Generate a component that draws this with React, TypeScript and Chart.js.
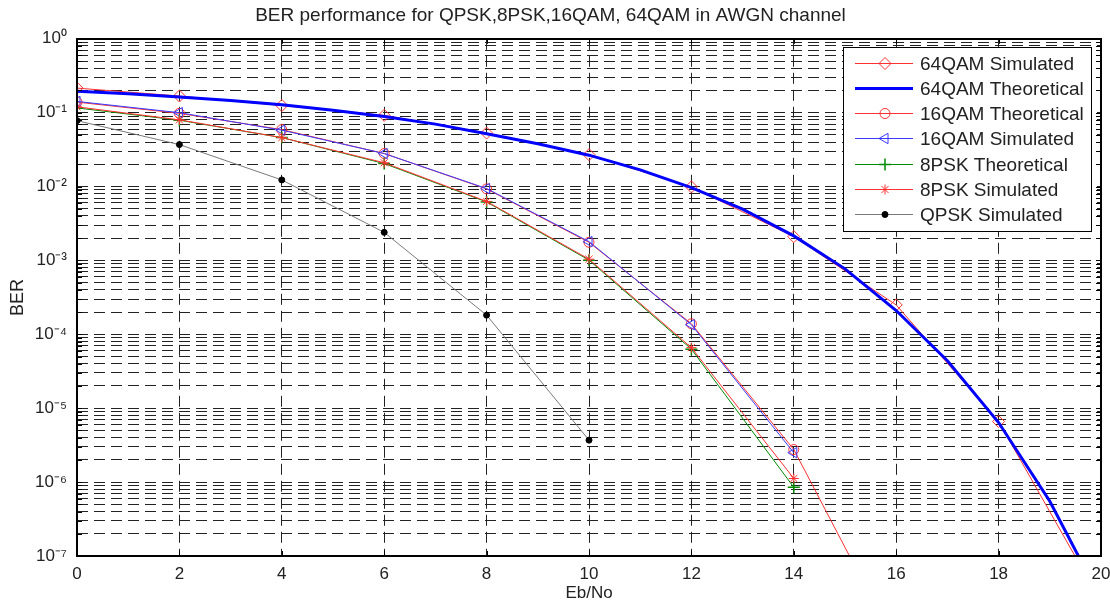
import { useEffect, useRef } from 'react';
import { Chart, registerables } from 'chart.js';
import { drawPoint } from 'chart.js/helpers';

Chart.register(...registerables);

// ---------- data ----------
const TITLE = 'BER performance for QPSK,8PSK,16QAM, 64QAM in AWGN channel';
const X_LABEL = 'Eb/No';
const Y_LABEL = 'BER';

const EBNO_EVEN = [0, 2, 4, 6, 8, 10, 12, 14, 16, 18, 20];
const EBNO_FINE = [0, 1, 2, 3, 4, 5, 6, 7, 8, 9, 10, 11, 12, 13, 14, 15, 16, 17, 18, 19, 20];

const QAM64_SIM = [0.215, 0.168, 0.125, 0.092, 0.053, 0.027, 0.0099, 0.0021, 0.00025, 6.6e-6, 2.4e-8];
const QAM64_THEO = [0.195, 0.18, 0.163, 0.146, 0.128, 0.108, 0.089, 0.07, 0.052, 0.038, 0.0266, 0.0168,
  0.0097, 0.00495, 0.00215, 0.00077, 0.00021, 4.4e-5, 6.4e-6, 5.5e-7, 2.6e-8];
const QAM16_THEO = [0.139, 0.098, 0.059, 0.028, 0.0093, 0.00176, 0.000139, 2.76e-6, 6.2e-9];
const QAM16_SIM = [0.142, 0.1, 0.058, 0.028, 0.0094, 0.0018, 0.000135, 2.5e-6];
const PSK8_THEO = [0.116, 0.079, 0.046, 0.0205, 0.0062, 0.00101, 6.3e-5, 8.5e-7];
const PSK8_SIM = [0.12, 0.08, 0.046, 0.021, 0.0063, 0.00104, 6.6e-5, 1.12e-6];
const QPSK_SIM = [0.078, 0.037, 0.0123, 0.0024, 0.000182, 3.7e-6];

const X_TICKS = [0, 2, 4, 6, 8, 10, 12, 14, 16, 18, 20];
const Y_DECADES = [-7, -6, -5, -4, -3, -2, -1, 0];
const Y_TICK_LABELS = ['10⁻⁷', '10⁻⁶', '10⁻⁵', '10⁻⁴', '10⁻³', '10⁻²', '10⁻¹', '10⁰'];
const Y_MINOR_MULTIPLES = [1, 2, 3, 4, 5, 6, 7, 8, 9];

const SERIES_LABELS = [
  '64QAM Simulated',
  '64QAM Theoretical',
  '16QAM Theoretical',
  '16QAM Simulated',
  '8PSK Theoretical',
  '8PSK Simulated',
  'QPSK Simulated',
];

const FONT = '"Liberation Sans", Arial, Helvetica, sans-serif';
const TEXT = '#222';

function pts(xs: number[], ys: number[]) {
  return ys.map((y, i) => ({ x: xs[i], y }));
}

function yTickValues() {
  const out: number[] = [];
  for (let d = 0; d < Y_DECADES.length - 1; d++) {
    for (const m of Y_MINOR_MULTIPLES) out.push(m * Math.pow(10, Y_DECADES[d]));
  }
  out.push(Math.pow(10, Y_DECADES[Y_DECADES.length - 1]));
  return out;
}

const matlabPlugin = {
  id: 'matlabFrame',
  afterDraw(chart: any) {
    const { ctx, chartArea } = chart;
    const { left, right, top, bottom } = chartArea;
    const xs = chart.scales.x;
    const ys = chart.scales.y;
    ctx.save();
    // inward ticks
    ctx.strokeStyle = '#000';
    ctx.lineWidth = 1;
    ctx.beginPath();
    for (const t of ys.ticks) {
      const py = Math.round(ys.getPixelForValue(t.value)) + 0.5;
      ctx.moveTo(left, py); ctx.lineTo(left + 5, py);
      ctx.moveTo(right, py); ctx.lineTo(right - 5, py);
    }
    for (const t of xs.ticks) {
      const px = Math.round(xs.getPixelForValue(t.value)) + 0.5;
      ctx.moveTo(px, bottom); ctx.lineTo(px, bottom - 5);
      ctx.moveTo(px, top); ctx.lineTo(px, top + 5);
    }
    ctx.stroke();
    // box
    ctx.lineWidth = 2;
    ctx.strokeRect(Math.round(left), Math.round(top), Math.round(right - left), Math.round(bottom - top));

    // legend
    const bx = 843, by = 47, bw = 248, bh = 184;
    ctx.fillStyle = '#fff';
    ctx.fillRect(bx, by, bw, bh);
    ctx.lineWidth = 1;
    ctx.strokeStyle = '#000';
    ctx.strokeRect(bx + 0.5, by + 0.5, bw, bh);
    const rowY0 = 63, rowStep = 25.15;
    chart.data.datasets.forEach((ds: any, i: number) => {
      const y = Math.round(rowY0 + i * rowStep) + 0.5;
      ctx.strokeStyle = ds.borderColor;
      ctx.lineWidth = ds.borderWidth;
      ctx.beginPath();
      ctx.moveTo(855, y); ctx.lineTo(913, y);
      ctx.stroke();
      if (ds.pointRadius > 0) {
        ctx.fillStyle = ds.pointBackgroundColor;
        ctx.strokeStyle = ds.pointBorderColor;
        ctx.lineWidth = ds.pointBorderWidth;
        drawPoint(ctx, {
          pointStyle: ds.pointStyle,
          rotation: ds.pointRotation || 0,
          radius: ds.pointRadius,
          borderWidth: ds.pointBorderWidth,
        }, 885, y);
      }
      ctx.fillStyle = TEXT;
      ctx.font = `19px ${FONT}`;
      ctx.textBaseline = 'middle';
      ctx.textAlign = 'left';
      ctx.fillText(ds.label, 920, y + 1);
    });
    ctx.restore();
  },
};

export default function App() {
  const ref = useRef<HTMLCanvasElement | null>(null);

  useEffect(() => {
    if (!ref.current) return;
    const red = '#ff3030';
    const chart = new Chart(ref.current, {
      type: 'line',
      data: {
        datasets: [
          {
            label: SERIES_LABELS[0], data: pts(EBNO_EVEN, QAM64_SIM),
            borderColor: red, borderWidth: 1, pointStyle: 'rectRot', pointRadius: 6,
            pointBorderColor: red, pointBackgroundColor: 'rgba(0,0,0,0)', pointBorderWidth: 1, order: 7,
          },
          {
            label: SERIES_LABELS[1], data: pts(EBNO_FINE, QAM64_THEO),
            borderColor: '#0000ff', borderWidth: 3, pointRadius: 0, order: 6,
          },
          {
            label: SERIES_LABELS[2], data: pts(EBNO_EVEN, QAM16_THEO),
            borderColor: red, borderWidth: 1, pointStyle: 'circle', pointRadius: 5,
            pointBorderColor: red, pointBackgroundColor: 'rgba(0,0,0,0)', pointBorderWidth: 1, order: 5,
          },
          {
            label: SERIES_LABELS[3], data: pts(EBNO_EVEN, QAM16_SIM),
            borderColor: '#3a3aff', borderWidth: 1, pointStyle: 'triangle', pointRotation: 270, pointRadius: 6,
            pointBorderColor: '#3a3aff', pointBackgroundColor: 'rgba(0,0,0,0)', pointBorderWidth: 1, order: 4,
          },
          {
            label: SERIES_LABELS[4], data: pts(EBNO_EVEN, PSK8_THEO),
            borderColor: '#008a00', borderWidth: 1, pointStyle: 'cross', pointRadius: 6,
            pointBorderColor: '#008a00', pointBackgroundColor: 'rgba(0,0,0,0)', pointBorderWidth: 1.5, order: 3,
          },
          {
            label: SERIES_LABELS[5], data: pts(EBNO_EVEN, PSK8_SIM),
            borderColor: red, borderWidth: 1, pointStyle: 'star', pointRadius: 5,
            pointBorderColor: red, pointBackgroundColor: 'rgba(0,0,0,0)', pointBorderWidth: 1, order: 2,
          },
          {
            label: SERIES_LABELS[6], data: pts(EBNO_EVEN, QPSK_SIM),
            borderColor: '#7a7a7a', borderWidth: 1, pointStyle: 'circle', pointRadius: 3,
            pointBorderColor: '#000', pointBackgroundColor: '#000', pointBorderWidth: 1, order: 1,
          },
        ],
      },
      options: {
        responsive: false,
        animation: false,
        devicePixelRatio: 1,
        events: [],
        elements: { line: { tension: 0 } },
        layout: { padding: { left: 0, right: 9, top: 0, bottom: 0 } },
        plugins: {
          legend: { display: false },
          tooltip: { enabled: false },
          title: {
            display: true, text: TITLE, color: TEXT,
            font: { family: FONT, size: 19, weight: 'normal' },
            padding: { top: 4, bottom: 12 },
          },
        },
        scales: {
          x: {
            type: 'linear', min: 0, max: 20,
            afterBuildTicks: (s: any) => { s.ticks = X_TICKS.map((v) => ({ value: v })); },
            afterFit: (s: any) => { s.height = 47; s.paddingLeft = 0; s.paddingRight = 0; },
            ticks: { padding: 8, color: TEXT, font: { family: FONT, size: 17 }, autoSkip: false, maxRotation: 0 },
            grid: { color: '#222', lineWidth: 1, drawTicks: false },
            border: { display: false, dash: [11, 6] },
            title: { display: true, text: X_LABEL, color: TEXT, font: { family: FONT, size: 17 }, padding: { top: 0, bottom: -1 } },
          },
          y: {
            type: 'logarithmic', min: 1e-7, max: 1,
            afterBuildTicks: (s: any) => { s.ticks = yTickValues().map((v) => ({ value: v })); },
            afterFit: (s: any) => { s.width = 77; s.paddingTop = 0; s.paddingBottom = 0; },
            ticks: {
              autoSkip: false, padding: 10, color: TEXT, font: { family: FONT, size: 17 },
              callback: (v: any) => {
                const e = Math.log10(Number(v));
                const r = Math.round(e);
                if (Math.abs(e - r) > 1e-6) return '';
                const idx = Y_DECADES.indexOf(r);
                return idx >= 0 ? Y_TICK_LABELS[idx] : '';
              },
            },
            grid: { color: '#222', lineWidth: 1, drawTicks: false },
            border: { display: false, dash: [11, 6] },
            title: { display: true, text: Y_LABEL, color: TEXT, font: { family: FONT, size: 18 }, padding: { top: 7, bottom: 0 } },
          },
        },
      },
      plugins: [matlabPlugin],
    } as any);
    return () => chart.destroy();
  }, []);

  return (
    <div style={{ position: 'fixed', left: 0, top: 0, width: 1110, height: 603, background: '#fff' }}>
      <canvas ref={ref} width={1110} height={603} style={{ display: 'block' }} />
    </div>
  );
}
